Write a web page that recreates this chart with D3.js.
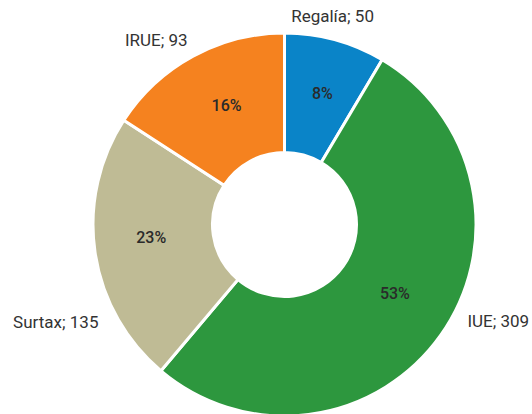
<!DOCTYPE html>
<html><head><meta charset="utf-8">
<script src="https://cdn.jsdelivr.net/npm/d3@7"></script>
<style>body{margin:0;background:#fff}</style>
</head><body>
<svg id="c" width="532" height="414"></svg>
<script>
const categories = ["Regalía", "IUE", "Surtax", "IRUE"];
const values = [50, 309, 135, 93];
const percentLabels = ["8%", "53%", "23%", "16%"];
const colors = ["#0a84c8", "#2d973e", "#bfbb95", "#f5821f"];

const svg = d3.select("#c");
const cx = 284.5, cy = 224.5, outerR = 191.5, innerR = 72;
const g = svg.append("g").attr("transform", `translate(${cx},${cy})`);
const pie = d3.pie().sort(null).value(d => d)(values);
const arc = d3.arc().innerRadius(innerR).outerRadius(outerR);

g.selectAll("path").data(pie).join("path")
  .attr("d", arc).attr("fill", (d, i) => colors[i])
  .attr("stroke", "#fff").attr("stroke-width", 3).attr("stroke-linejoin", "miter");

// percentage labels at arc centroids, with small Excel-like nudges
const pctNudges = [[3, -4], [3, -7], [-3, -6], [5, -3]];
g.selectAll("text.pct").data(pie).join("text").attr("class", "pct")
  .attr("transform", (d, i) => {
    const c = arc.centroid(d);
    return `translate(${c[0] + pctNudges[i][0]},${c[1] + pctNudges[i][1]})`;
  })
  .attr("text-anchor", "middle").attr("dominant-baseline", "central")
  .attr("font-family", "Roboto, sans-serif").attr("font-size", 16).attr("font-weight", 500)
  .attr("fill", "#2a2a2a")
  .text((d, i) => percentLabels[i]);

// category labels: computed on a label circle, with Excel-like layout nudges
const labelR = 212;
const nudges = [[-8, -4], [41, -26], [-19, 66], [-27, 2]];
g.selectAll("text.lab").data(pie).join("text").attr("class", "lab")
  .attr("transform", (d, i) => {
    const a = (d.startAngle + d.endAngle) / 2;
    return `translate(${labelR * Math.sin(a) + nudges[i][0]},${-labelR * Math.cos(a) + nudges[i][1]})`;
  })
  .attr("text-anchor", "middle").attr("dominant-baseline", "central")
  .attr("font-family", "Roboto, sans-serif").attr("font-size", 17)
  .attr("fill", "#333")
  .text((d, i) => `${categories[i]}; ${d.value}`);
</script>
</body></html>
